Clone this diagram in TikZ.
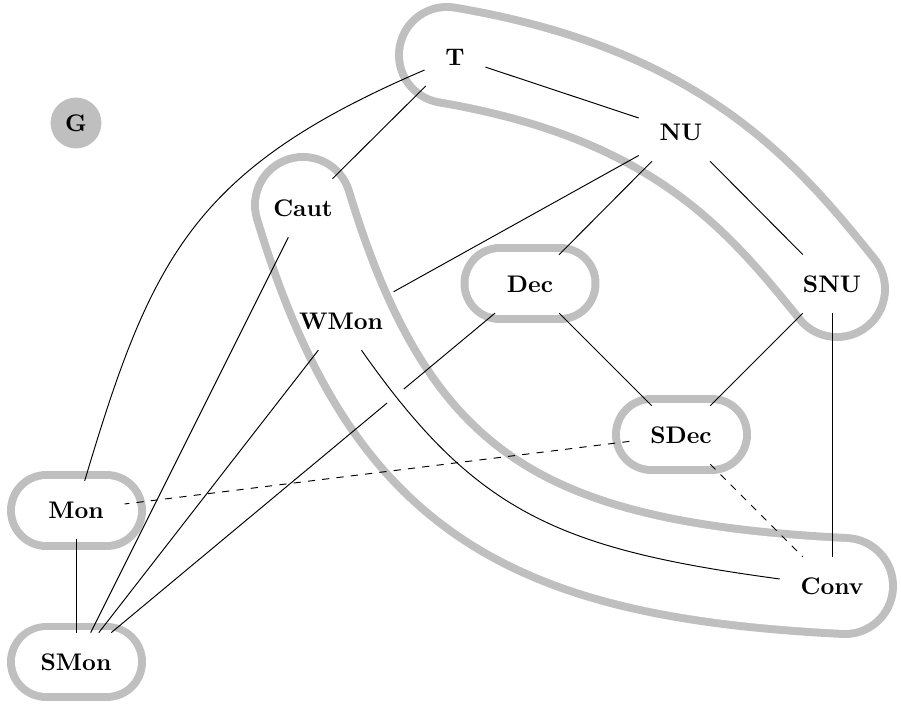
\documentclass[tikz,border=0pt]{standalone}
\usetikzlibrary{calc}
\begin{document}
\begin{tikzpicture}[x=0.4167pt,y=-0.4167pt,
  lbl/.style={font=\bfseries, inner sep=8.5pt},
  edge/.style={black, line width=0.4pt},
  blob/.style={draw=gray!50, line width=3.33pt, double=white, double distance=26.25pt, line cap=round},
  band/.style={draw=gray!50, line width=3.33pt, double=white, double distance=36.67pt, line cap=round},
]
\useasboundingbox (0,0) rectangle (901,704);
% grey regions
\draw[band] (447,55) .. controls (677,94) and (761,195) .. (837,289);
\draw[band] (303,205) .. controls (390,493) and (525,570) .. (845,586);
\draw[blob] (500,283.5) -- (560,283.5);
\draw[blob] (651.5,434.5) -- (711.5,434.5);
\draw[blob] (46.5,510.5) -- (106.5,510.5);
\draw[blob] (46.5,662) -- (106.5,662);
% nodes
\node[lbl] (T) at (455,57) {T};
\node[lbl] (NU) at (681,132) {NU};
\node[circle, fill=gray!50, minimum size=21.2pt, inner sep=0pt, font=\bfseries] (G) at (76,123) {G};
\node[lbl] (Caut) at (303,208) {Caut};
\node[lbl] (Dec) at (530,284) {Dec};
\node[lbl] (SNU) at (832,284) {SNU};
\node[lbl] (WMon) at (341,321) {WMon};
\node[lbl] (SDec) at (681,435) {SDec};
\node[lbl] (Mon) at (76,510) {Mon};
\node[lbl] (SMon) at (76,662) {SMon};
\node[lbl] (Conv) at (832,586) {Conv};
% edges
\draw[edge] (T) -- (Caut);
\draw[edge] (T) -- (NU);
\draw[edge] (T) .. controls (193,169) and (151,258.5) .. (Mon);
\draw[edge] (NU) -- (Dec);
\draw[edge] (NU) -- (SNU);
\draw[edge] (NU) -- (WMon);
\draw[edge] (Caut) -- (SMon);
\draw[edge] (WMon) -- (SMon);
\draw[edge] (Dec) -- (SMon);
\draw[edge, preaction={draw=white, line width=9pt}] (WMon) .. controls (475,512) and (557,549) .. (Conv);
\draw[edge] (Dec) -- (SDec);
\draw[edge] (SNU) -- (SDec);
\draw[edge] (SNU) -- (Conv);
\draw[edge, dashed] (SDec) -- (Mon);
\draw[edge, dashed] (SDec) -- (Conv);
\draw[edge] (Mon) -- (SMon);
\end{tikzpicture}
\end{document}
